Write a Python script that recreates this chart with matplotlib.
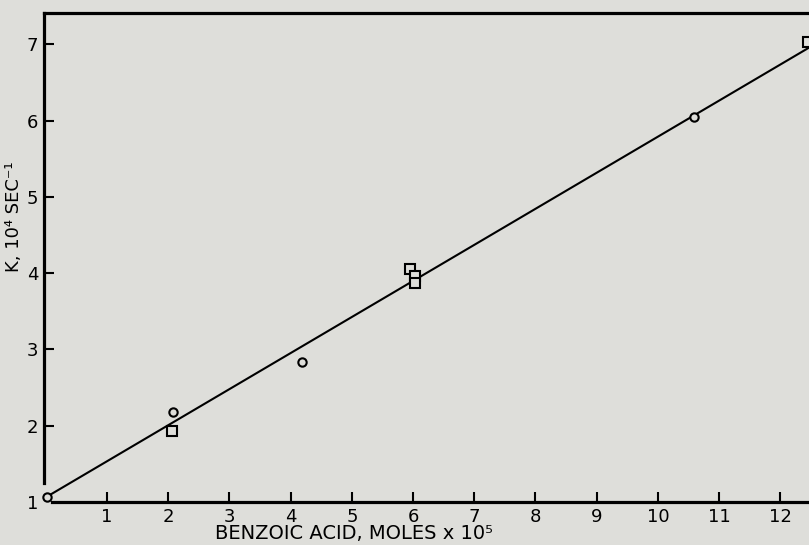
import matplotlib
matplotlib.use("Agg")
import matplotlib.pyplot as plt

# data
circ_x = [0.02, 2.08, 4.18, 10.59]
circ_y = [1.07, 2.18, 2.83, 6.05]
sq_x = [2.06, 5.95, 6.03, 6.03, 12.45]
sq_y = [1.93, 4.05, 3.96, 3.87, 7.03]
line_x = [0.06, 12.5]
line_y = [1.09, 6.97]

x_ticks = list(range(1, 13))
y_ticks = list(range(1, 8))

bg = "#dededa"
plt.rcParams['font.family'] = ['DejaVu Sans']

fig = plt.figure(figsize=(8.09, 5.45), dpi=100, facecolor=bg)
ax = fig.add_axes([44/809, 43/545, 765/809, 489/545])
ax.set_facecolor(bg)

ax.plot(line_x, line_y, color="black", lw=1.5, zorder=2)
ax.plot(circ_x, circ_y, "o", ms=6, mfc=bg, mec="black", mew=1.5, zorder=3,
        clip_on=False)
ax.plot(sq_x, sq_y, "s", ms=6.5, mfc=bg, mec="black", mew=1.5, zorder=3,
        clip_on=False)

ax.set_xlim(-0.03, 12.47)
ax.set_ylim(1.0, 7.41)
ax.set_xticks(x_ticks)
ax.set_yticks(y_ticks)
ax.tick_params(direction="in", length=7, width=1.5, labelsize=13, pad=4)
ax.yaxis.get_major_ticks()[0].tick1line.set_visible(False)

for s in ["left", "bottom", "top"]:
    ax.spines[s].set_linewidth(2.3)
ax.spines["right"].set_visible(False)
ax.spines["left"].set_bounds(1.25, 7.41)
ax.spines["bottom"].set_bounds(0.1, 12.47)

ax.set_xlabel("BENZOIC ACID, MOLES x 10⁵", fontsize=14)
ax.xaxis.set_label_coords(0.405, -0.045)
ax.set_ylabel("K, 10⁴ SEC⁻¹", fontsize=13)
ax.yaxis.set_label_coords(-0.027, 0.583)

fig.savefig("out.png", dpi=100, facecolor=bg)
